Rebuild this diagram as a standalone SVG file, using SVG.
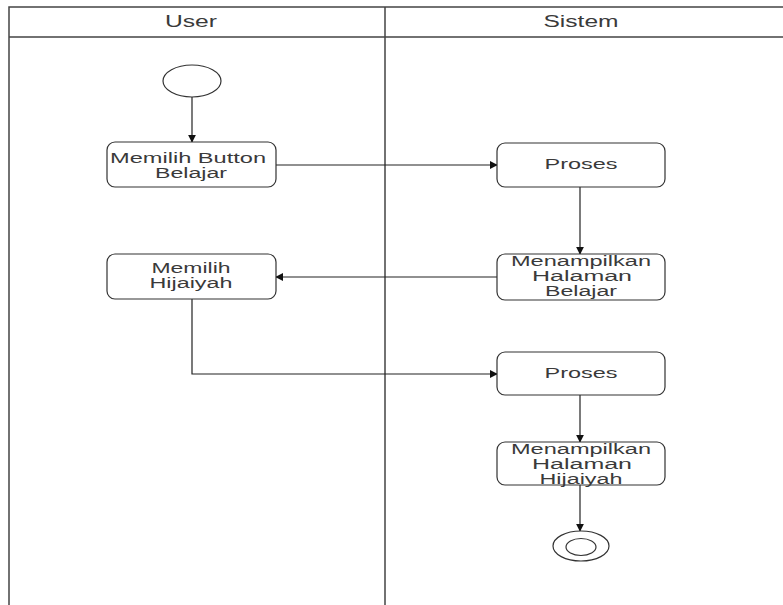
<svg xmlns="http://www.w3.org/2000/svg" width="783" height="605" viewBox="0 0 783 605">
  <defs>
    <marker id="arrow" viewBox="0 0 10 10" refX="9" refY="5" markerWidth="8" markerHeight="8" markerUnits="userSpaceOnUse" orient="auto">
      <path d="M0,0 L10,5 L0,10 z" fill="#111"/>
    </marker>
    <style>
      .lane { fill: none; stroke: #444; stroke-width: 1.5; }
      .node { fill: #fff; stroke: #333; stroke-width: 1.2; }
      .label { font-family: "Liberation Sans", Arial, sans-serif; font-size: 14px; fill: #3a3a3a; text-anchor: middle; }
      .head { font-size: 16px; }
      .edge { fill: none; stroke: #222; stroke-width: 1.2; marker-end: url(#arrow); }
    </style>
  </defs>
  <rect width="783" height="605" fill="#fff"/>

  <!-- swimlanes -->
  <g id="lanes">
    <path class="lane" d="M9,605 V7 H783 M9,37 H783 M385,7 V605"/>
    <text class="label head" x="191" y="27" textLength="52" lengthAdjust="spacingAndGlyphs">User</text>
    <text class="label head" x="581" y="27" textLength="75" lengthAdjust="spacingAndGlyphs">Sistem</text>
  </g>

  <!-- connectors -->
  <g id="connectors">
    <path class="edge" d="M192,97 V142"/>
    <path class="edge" d="M276,165 H497"/>
    <path class="edge" d="M580,187 V254"/>
    <path class="edge" d="M497,277 H276"/>
    <path class="edge" d="M192,299 V374 H497"/>
    <path class="edge" d="M580,395 V442"/>
    <path class="edge" d="M580,485 V531"/>
  </g>

  <g id="start">
    <ellipse class="node" cx="192" cy="81" rx="29" ry="16"/>
  </g>

  <g id="memilih-button">
    <rect class="node" x="107" y="142" width="169" height="45" rx="8"/>
    <text class="label" x="188" y="163" textLength="156" lengthAdjust="spacingAndGlyphs">Memilih Button</text>
    <text class="label" x="191" y="178" textLength="72" lengthAdjust="spacingAndGlyphs">Belajar</text>
  </g>

  <g id="proses-1">
    <rect class="node" x="497" y="143" width="168" height="44" rx="8"/>
    <text class="label" x="581" y="169" textLength="73" lengthAdjust="spacingAndGlyphs">Proses</text>
  </g>

  <g id="tampil-belajar">
    <rect class="node" x="497" y="254" width="168" height="46" rx="8"/>
    <text class="label" x="581" y="266" textLength="140" lengthAdjust="spacingAndGlyphs">Menampilkan</text>
    <text class="label" x="582" y="281" textLength="100" lengthAdjust="spacingAndGlyphs">Halaman</text>
    <text class="label" x="581" y="295.5" textLength="72" lengthAdjust="spacingAndGlyphs">Belajar</text>
  </g>

  <g id="memilih-hijaiyah">
    <rect class="node" x="107" y="254" width="169" height="45" rx="8"/>
    <text class="label" x="191" y="273" textLength="79" lengthAdjust="spacingAndGlyphs">Memilih</text>
    <text class="label" x="191" y="288" textLength="83" lengthAdjust="spacingAndGlyphs">Hijaiyah</text>
  </g>

  <g id="proses-2">
    <rect class="node" x="497" y="352" width="168" height="43" rx="8"/>
    <text class="label" x="581" y="378" textLength="73" lengthAdjust="spacingAndGlyphs">Proses</text>
  </g>

  <g id="tampil-hijaiyah">
    <rect class="node" x="497" y="442" width="168" height="43" rx="8"/>
    <text class="label" x="581" y="454" textLength="140" lengthAdjust="spacingAndGlyphs">Menampilkan</text>
    <text class="label" x="582" y="469" textLength="100" lengthAdjust="spacingAndGlyphs">Halaman</text>
    <text class="label" x="581" y="483.5" textLength="83" lengthAdjust="spacingAndGlyphs">Hijaiyah</text>
  </g>

  <g id="end">
    <ellipse class="node" cx="581" cy="546" rx="28" ry="15"/>
    <ellipse class="node" cx="581" cy="547" rx="15" ry="8.5"/>
  </g>
</svg>
